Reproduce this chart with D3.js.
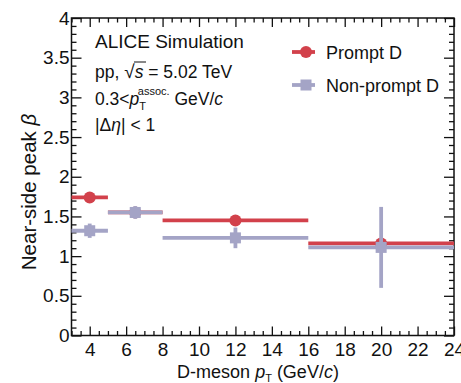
<!DOCTYPE html>
<html>
<head>
<meta charset="utf-8">
<script src="https://cdn.jsdelivr.net/npm/d3@7"></script>
<style>
  body { margin: 0; background: #fff; }
  svg { display: block; font-family: "Liberation Sans", Arial, sans-serif; }
</style>
</head>
<body>
<figure id="chart" style="margin:0"></figure>
<script>
// bins in D-meson pT (GeV/c)
const binLo = [3, 5, 8, 16];
const binHi = [5, 8, 16, 24];
const binCenter = [4, 6.5, 12, 20];

// near-side peak beta
const promptVals = [1.74, 1.55, 1.45, 1.16];
const promptErr = [0.03, 0.03, 0.03, 0.04];
const nonPromptVals = [1.32, 1.55, 1.23, 1.11];
const nonPromptErr = [0.09, 0.08, 0.13, 0.51];

const xTicks = [4, 6, 8, 10, 12, 14, 16, 18, 20, 22, 24];
const yTicks = [0, 0.5, 1, 1.5, 2, 2.5, 3, 3.5, 4];

const W = 461, H = 383;
const mLeft = 71.5, mRight = 454, mTop = 18, mBottom = 335.5;
const red = "#d2414b", purple = "#a4a4c6";

const svg = d3.select("#chart").append("svg")
  .attr("width", W).attr("height", H);

const x = d3.scaleLinear().domain([3, 24]).range([mLeft, mRight]);
const y = d3.scaleLinear().domain([0, 4]).range([mBottom, mTop]);

// minor ticks
const xMinor = d3.range(3, 24.01, 0.5).filter(v => !xTicks.includes(v));
const yMinor = d3.range(0, 4.001, 0.1).map(v => +v.toFixed(1)).filter(v => !yTicks.includes(v));

function styleAxis(g) {
  g.select(".domain").remove();
  g.selectAll("line").attr("stroke", "#111").attr("stroke-width", 1.3);
  g.selectAll("text").attr("fill", "#111").style("font-size", "19px");
}

// bottom axis
svg.append("g").attr("transform", `translate(0,${mBottom})`)
  .call(d3.axisBottom(x).tickValues(xTicks).tickSize(-9).tickPadding(5).tickFormat(d3.format("d")))
  .call(styleAxis)
  .selectAll("text").attr("dy", "0.82em");
svg.append("g").attr("transform", `translate(0,${mBottom})`)
  .call(d3.axisBottom(x).tickValues(xMinor).tickSize(-4.5).tickFormat(""))
  .call(styleAxis);
// top axis
svg.append("g").attr("transform", `translate(0,${mTop})`)
  .call(d3.axisTop(x).tickValues(xTicks).tickSize(-9).tickFormat(""))
  .call(styleAxis);
svg.append("g").attr("transform", `translate(0,${mTop})`)
  .call(d3.axisTop(x).tickValues(xMinor).tickSize(-4.5).tickFormat(""))
  .call(styleAxis);

// left axis
svg.append("g").attr("transform", `translate(${mLeft},0)`)
  .call(d3.axisLeft(y).tickValues(yTicks).tickSize(-10).tickPadding(2).tickFormat(d => d))
  .call(styleAxis);
svg.append("g").attr("transform", `translate(${mLeft},0)`)
  .call(d3.axisLeft(y).tickValues(yMinor).tickSize(-5).tickFormat(""))
  .call(styleAxis);
// right axis
svg.append("g").attr("transform", `translate(${mRight},0)`)
  .call(d3.axisRight(y).tickValues(yTicks).tickSize(-10).tickFormat(""))
  .call(styleAxis);
svg.append("g").attr("transform", `translate(${mRight},0)`)
  .call(d3.axisRight(y).tickValues(yMinor).tickSize(-5).tickFormat(""))
  .call(styleAxis);

// frame
svg.append("rect")
  .attr("x", mLeft).attr("y", mTop)
  .attr("width", mRight - mLeft).attr("height", mBottom - mTop)
  .attr("fill", "none").attr("stroke", "#111").attr("stroke-width", 1.5);

// data series
function drawSeries(vals, errs, color, shape) {
  const g = svg.append("g");
  vals.forEach((v, i) => {
    g.append("line")
      .attr("x1", x(binLo[i])).attr("x2", x(binHi[i]))
      .attr("y1", y(v)).attr("y2", y(v))
      .attr("stroke", color).attr("stroke-width", 3.8);
    g.append("line")
      .attr("x1", x(binCenter[i])).attr("x2", x(binCenter[i]))
      .attr("y1", y(v - errs[i])).attr("y2", y(v + errs[i]))
      .attr("stroke", color).attr("stroke-width", 3.8);
    if (shape === "circle") {
      g.append("circle")
        .attr("cx", x(binCenter[i])).attr("cy", y(v)).attr("r", 6)
        .attr("fill", color);
    } else {
      g.append("rect")
        .attr("x", x(binCenter[i]) - 5.5).attr("y", y(v) - 5.5)
        .attr("width", 11).attr("height", 11)
        .attr("fill", color);
    }
  });
}
drawSeries(promptVals, promptErr, red, "circle");
drawSeries(nonPromptVals, nonPromptErr, purple, "square");

// legend
const legend = [
  { label: "Prompt D", color: red, shape: "circle", y: 52 },
  { label: "Non-prompt D", color: purple, shape: "square", y: 85 }
];
legend.forEach(l => {
  svg.append("line")
    .attr("x1", 292).attr("x2", 315).attr("y1", l.y).attr("y2", l.y)
    .attr("stroke", l.color).attr("stroke-width", 3.8);
  if (l.shape === "circle") {
    svg.append("circle").attr("cx", 306).attr("cy", l.y).attr("r", 6).attr("fill", l.color);
  } else {
    svg.append("rect").attr("x", 300.5).attr("y", l.y - 5.5).attr("width", 11).attr("height", 11).attr("fill", l.color);
  }
  svg.append("text")
    .attr("x", 326).attr("y", l.y + 6.5)
    .style("font-size", "18px").attr("fill", "#111")
    .text(l.label);
});

// annotation text
const ann = svg.append("g").attr("fill", "#111");
ann.append("text").attr("x", 95).attr("y", 48).style("font-size", "19px").text("ALICE Simulation");

const t2 = ann.append("text").attr("x", 95).attr("y", 78).style("font-size", "17.5px");
t2.append("tspan").text("pp, ");
t2.append("tspan").text("√").style("font-size", "19px");
t2.append("tspan").text("s").attr("font-style", "italic");
t2.append("tspan").text(" = 5.02 TeV");
// overline for sqrt
ann.append("line").attr("x1", 134).attr("x2", 146).attr("y1", 62).attr("y2", 62)
  .attr("stroke", "#111").attr("stroke-width", 1);

const t3 = ann.append("text").attr("x", 95).attr("y", 105).style("font-size", "17.5px");
t3.append("tspan").text("0.3<");
t3.append("tspan").text("p").attr("font-style", "italic");
t3.append("tspan").text("T").style("font-size", "11px").attr("dy", 5);
t3.append("tspan").text("assoc.").style("font-size", "11px").attr("dx", -7).attr("dy", -15);
t3.append("tspan").text(" GeV/").attr("dy", 10);
t3.append("tspan").text("c").attr("font-style", "italic");

const t4 = ann.append("text").attr("x", 95).attr("y", 131).style("font-size", "17.5px");
t4.append("tspan").text("|Δ");
t4.append("tspan").text("η").attr("font-style", "italic");
t4.append("tspan").text("| < 1");

// axis titles
const xt = svg.append("text")
  .attr("x", 258).attr("y", 378).attr("text-anchor", "middle")
  .style("font-size", "18px").attr("fill", "#111");
xt.append("tspan").text("D-meson ");
xt.append("tspan").text("p").attr("font-style", "italic");
xt.append("tspan").text("T").style("font-size", "11px").attr("dy", 4);
xt.append("tspan").text(" (GeV/").attr("dy", -4);
xt.append("tspan").text("c").attr("font-style", "italic");
xt.append("tspan").text(")");

const yt = svg.append("text")
  .attr("transform", "translate(36,192) rotate(-90)").attr("text-anchor", "middle")
  .style("font-size", "20.5px").attr("fill", "#111");
yt.append("tspan").text("Near-side peak ");
yt.append("tspan").text("β").attr("font-style", "italic");
</script>
</body>
</html>
